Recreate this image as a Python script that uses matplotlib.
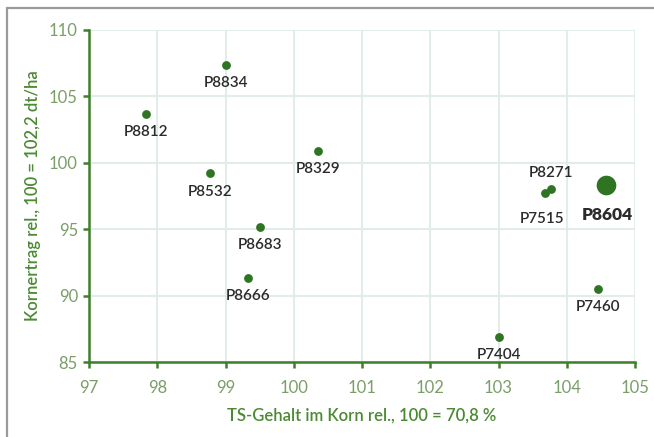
import matplotlib
matplotlib.use("Agg")
import matplotlib.pyplot as plt
from matplotlib.patches import Rectangle

plt.rcParams['font.family'] = ['Lato', 'DejaVu Sans']

names = ["P8834", "P8812", "P8532", "P8329", "P8683", "P8666", "P7404", "P7460", "P7515", "P8271", "P8604"]
ts = [99.0, 97.84, 98.77, 100.36, 99.5, 99.33, 103.0, 104.46, 103.68, 103.77, 104.58]
yield_rel = [107.4, 103.65, 99.2, 100.9, 95.15, 91.3, 86.9, 90.5, 97.75, 98.05, 98.35]
highlight = "P8604"

x_ticks = [97, 98, 99, 100, 101, 102, 103, 104, 105]
y_ticks = [85, 90, 95, 100, 105, 110]
x_label = "TS-Gehalt im Korn rel., 100 = 70,8 %"
y_label = "Kornertrag rel., 100 = 102,2 dt/ha"

green = "#2f7423"
spine_c = "#3f7f2c"
tick_c = "#7a9e68"
label_c = "#4b8a33"
grid_c = "#dfebe7"

fig = plt.figure(figsize=(6.54, 4.37), dpi=100)
ax = fig.add_axes([0.1361, 0.1716, 0.971 - 0.1361, 0.9314 - 0.1716])

# offsets in points (dx, dy), alignment
offsets = {
    "P8271": (0, 6, "bottom"),
    "P7515": (-2, -14, "top"),
    "P8604": (1, -16, "top"),
}

for n, x, y in zip(names, ts, yield_rel):
    big = n == highlight
    ax.scatter([x], [y], s=(200 if big else 40), color=green, zorder=3, linewidths=0)
    dx, dy, va = offsets.get(n, (0, -8, "top"))
    ax.annotate(n, (x, y), xytext=(dx, dy), textcoords="offset points",
                ha="center", va=va, fontsize=(12.5 if big else 11),
                fontweight=("heavy" if big else "semibold"), color="#2b2b2b", zorder=4)

ax.set_xlim(97, 105)
ax.set_ylim(85, 110)
ax.set_xticks(x_ticks)
ax.set_yticks(y_ticks)
ax.grid(True, color=grid_c, linewidth=1.3, zorder=0)
ax.set_axisbelow(True)

for s in ["top", "right"]:
    ax.spines[s].set_visible(False)
for s in ["left", "bottom"]:
    ax.spines[s].set_color(spine_c)
    ax.spines[s].set_linewidth(1.8)

ax.tick_params(axis="both", colors=spine_c, labelcolor=tick_c, labelsize=12,
               length=4, width=1.8, direction="out")
ax.tick_params(axis="x", pad=9)
ax.tick_params(axis="y", pad=4)

ax.set_xlabel(x_label, color=label_c, fontsize=12, fontweight="semibold", labelpad=8)
ax.set_ylabel(y_label, color=label_c, fontsize=12, fontweight="semibold", labelpad=6)

# outer grey frame (partially cropped)
fig.patches.append(Rectangle((7 / 654, -0.1), 1.2, 1 - 8 / 437 + 0.1,
                             transform=fig.transFigure, fill=False,
                             edgecolor="#9a9a9a", linewidth=1.6, zorder=0))

fig.savefig("out.png", dpi=100)
